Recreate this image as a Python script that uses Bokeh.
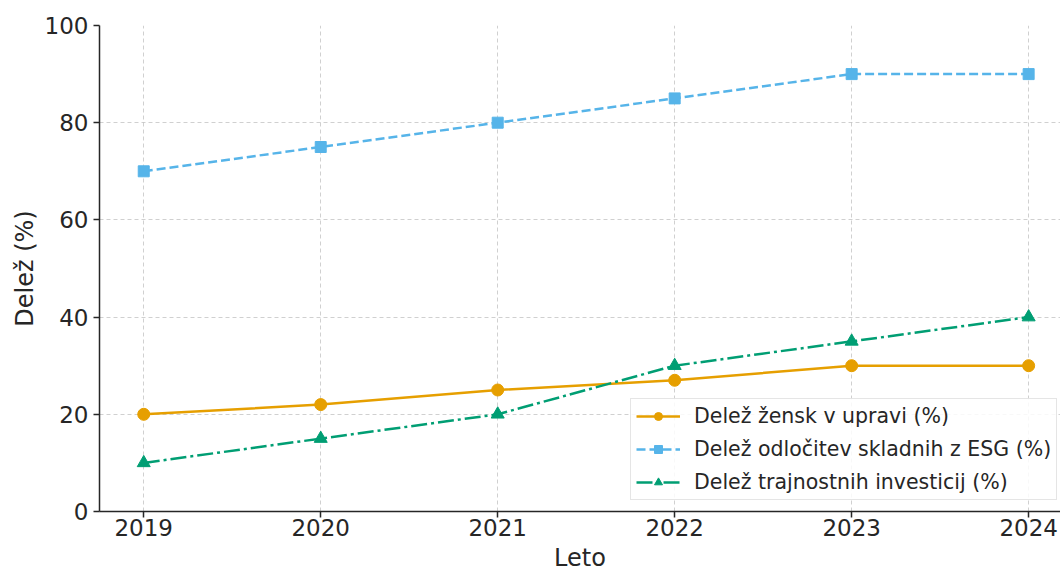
from bokeh.plotting import figure
from bokeh.models import FixedTicker, Range1d, Legend
from bokeh.embed import file_html
from bokeh.resources import INLINE

years = [2019, 2020, 2021, 2022, 2023, 2024]
women = [20, 22, 25, 27, 30, 30]
esg = [70, 75, 80, 85, 90, 90]
sustain = [10, 15, 20, 30, 35, 40]
y_ticks = [0, 20, 40, 60, 80, 100]

labels = ["Delež žensk v upravi (%)",
          "Delež odločitev skladnih z ESG (%)",
          "Delež trajnostnih investicij (%)"]
x_title = "Leto"
y_title = "Delež (%)"
colors = ["#E69F00", "#56B4E9", "#009E73"]

FONT = "DejaVu Sans"
TXT = "#262626"

p = figure(width=None, height=None, frame_width=961, frame_height=486,
           output_backend="svg", toolbar_location=None,
           x_range=Range1d(2018.75, 2024.18), y_range=Range1d(0, 100),
           min_border_left=99, min_border_right=0, min_border_top=25, min_border_bottom=40)
p.outline_line_color = None
p.background_fill_color = "white"

r1l = p.line(years, women, color=colors[0], line_width=2.5)
r1s = p.scatter(years, women, marker="circle", size=12, color=colors[0])
r2l = p.line(years, esg, color=colors[1], line_width=2.5, line_dash="9 4")
r2s = p.scatter(years, esg, marker="square", size=11, color=colors[1])
r3l = p.line(years, sustain, color=colors[2], line_width=2.5, line_dash="16 4 3 4")
r3s = p.scatter(years, sustain, marker="triangle", size=13, color=colors[2])

legend = Legend(items=[(labels[0], [r1l, r1s]), (labels[1], [r2l, r2s]), (labels[2], [r3l, r3s])],
                location=(531, 11))
legend.label_text_font = FONT
legend.label_text_font_size = "20.5px"
legend.label_text_color = TXT
legend.glyph_width = 44
legend.glyph_height = 20
legend.label_height = 20
legend.spacing = 9
legend.padding = 5
legend.margin = 0
legend.label_standoff = 14
legend.border_line_color = "#cccccc"
legend.border_line_width = 1
legend.background_fill_color = "white"
legend.background_fill_alpha = 0.85
p.add_layout(legend, "center")

for ax in (p.xaxis, p.yaxis):
    ax.axis_line_color = TXT
    ax.axis_line_width = 1.5
    ax.major_tick_line_color = TXT
    ax.major_tick_line_width = 1.5
    ax.major_tick_out = 6
    ax.major_tick_in = 0
    ax.minor_tick_line_color = None
    ax.major_label_text_font = FONT
    ax.major_label_text_font_size = "23px"
    ax.major_label_text_color = TXT
    ax.axis_label_text_font = FONT
    ax.axis_label_text_font_size = "24px"
    ax.axis_label_text_font_style = "normal"
    ax.axis_label_text_color = TXT

p.xaxis.ticker = FixedTicker(ticks=years)
p.yaxis.ticker = FixedTicker(ticks=y_ticks)
p.xaxis.axis_label = x_title
p.yaxis.axis_label = y_title
p.xaxis.major_label_standoff = 1
p.yaxis.major_label_standoff = 5
p.xaxis.axis_label_standoff = 5
p.yaxis.axis_label_standoff = 3

for g in (p.xgrid, p.ygrid):
    g.grid_line_color = "#b0b0b0"
    g.grid_line_alpha = 0.6
    g.grid_line_dash = "4 3"
    g.grid_line_width = 1

open("out.html", "w").write(file_html(p, INLINE))
